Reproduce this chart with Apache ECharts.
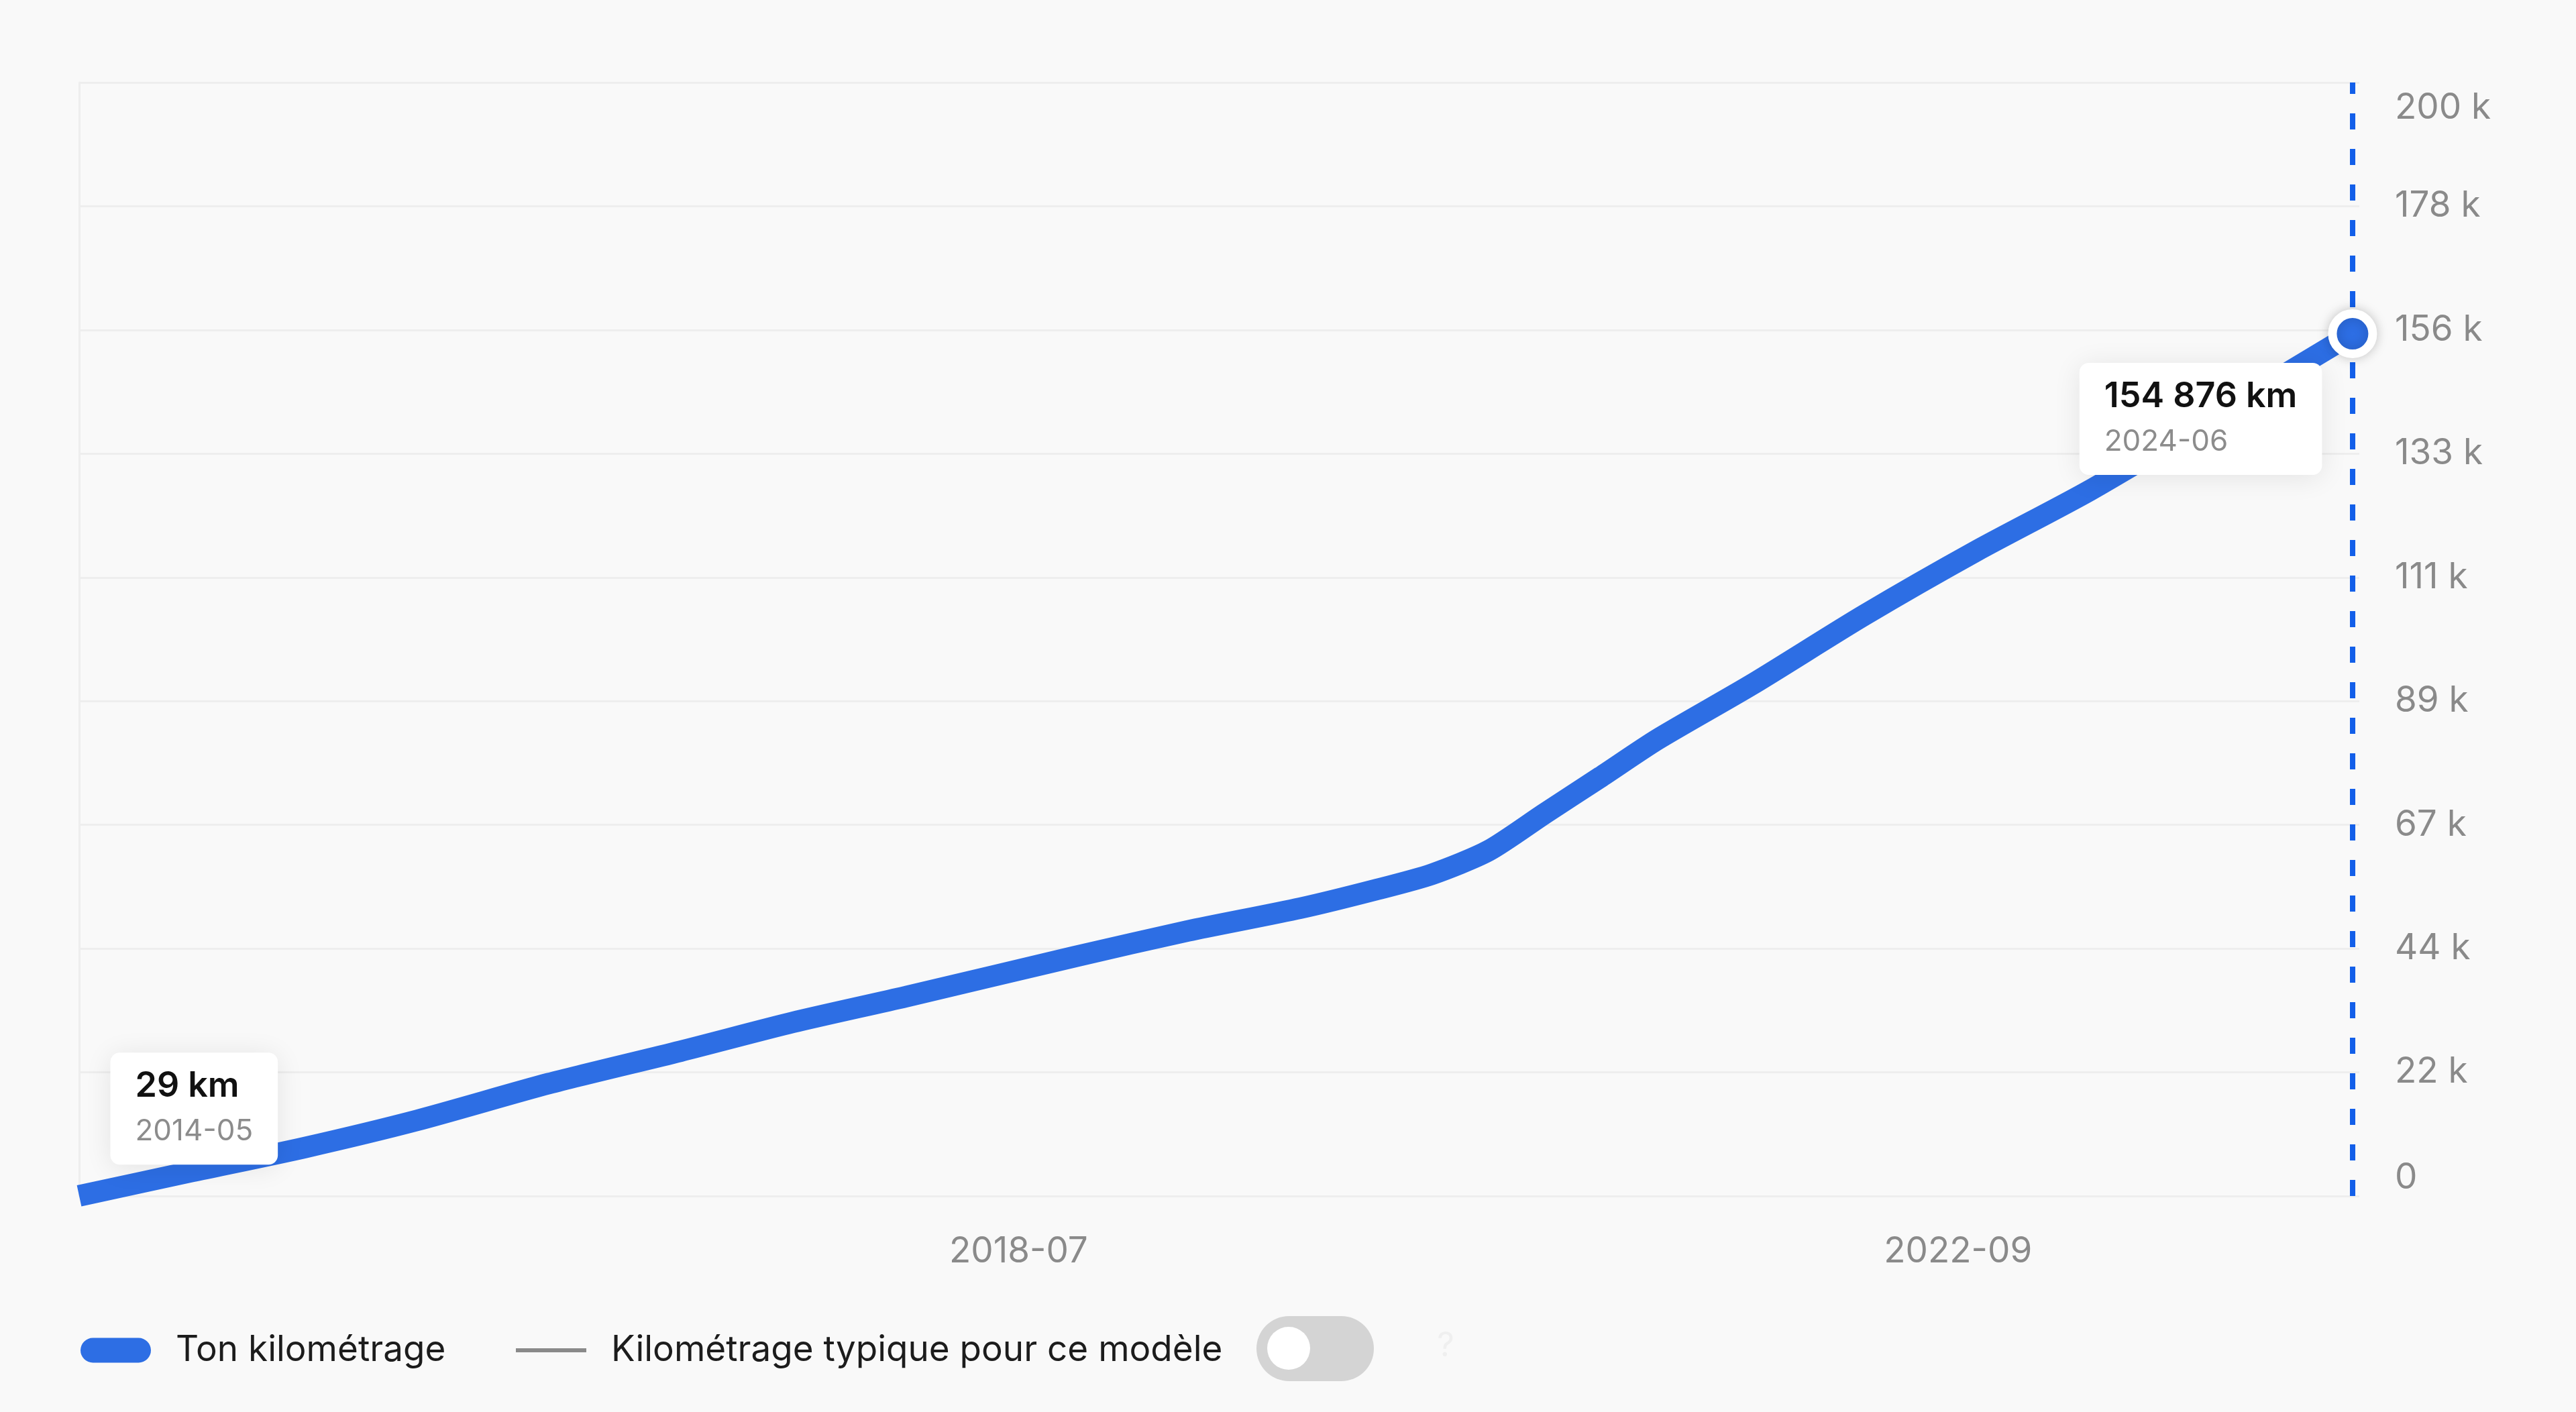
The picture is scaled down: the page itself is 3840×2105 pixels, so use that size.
<!DOCTYPE html>
<html>
<head>
<meta charset="utf-8">
<script src="https://cdn.jsdelivr.net/npm/echarts@6/dist/echarts.min.js"></script>
<style>
  html, body { margin: 0; padding: 0; background: #f9f9f9; }
  #chart { width: 3840px; height: 2105px; }
</style>
</head>
<body>
<div id="chart"></div>
<script>
// ---------- data ----------
const startMonth = '2014-05';
const months = ['2014-05','2014-11','2015-05','2015-11','2016-06','2017-01','2017-07','2018-01','2018-10','2019-04','2019-10','2020-02','2020-05','2020-08','2020-11','2021-02','2021-05','2021-10','2022-04','2022-10','2023-04','2023-11','2024-03','2024-06'];
const mileage = [29, 4400, 8700, 13600, 20200, 26000, 31200, 35800, 43000, 47600, 51700, 55000, 57800, 62000, 68700, 75300, 82000, 91800, 104300, 115900, 126700, 140700, 148800, 154876];
const typicalMileage = [];
const xTickLabels = ['2018-07', '2022-09'];
const yTickLabels = ['0','22 k','44 k','67 k','89 k','111 k','133 k','156 k','178 k','200 k'];
const seriesNames = ['Ton kilométrage', 'Kilométrage typique pour ce modèle'];

// ---------- helpers ----------
function monthIndex(m) {
  const [y0, m0] = startMonth.split('-').map(Number);
  const [y, mm] = m.split('-').map(Number);
  return (y - y0) * 12 + (mm - m0);
}
function monthFromIndex(i) {
  const [y0, m0] = startMonth.split('-').map(Number);
  const t = y0 * 12 + (m0 - 1) + Math.round(i);
  const y = Math.floor(t / 12), m = t % 12 + 1;
  return y + '-' + String(m).padStart(2, '0');
}
function fmtKm(v) { return String(v).replace(/\B(?=(\d{3})+(?!\d))/g, ' ') + ' km'; }

const points = months.map((m, i) => [monthIndex(m), mileage[i]]);
const lastIdx = points.length - 1;
const lastX = points[lastIdx][0];

const FONT = 'Inter, "Noto Sans", sans-serif';
const BLUE = '#2d6ee4';

const labelBox = {
  show: true,
  backgroundColor: '#ffffff',
  borderRadius: 14,
  padding: [17, 37, 16, 37],
  shadowBlur: 40,
  shadowColor: 'rgba(0,0,0,0.09)',
  shadowOffsetY: 4,
  formatter: p => '{a|' + fmtKm(p.value) + '}\n{b|' + p.name + '}',
  rich: {
    a: { fontFamily: FONT, fontSize: 52, fontWeight: 600, color: '#111111', lineHeight: 67, align: 'left' },
    b: { fontFamily: FONT, fontSize: 44, color: '#8c8c8c', lineHeight: 67, align: 'left' }
  }
};

const chart = echarts.init(document.getElementById('chart'), null, { renderer: 'canvas' });
chart.setOption({
  animation: false,
  backgroundColor: '#f9f9f9',
  grid: { left: 118, right: 323, top: 123, bottom: 322, containLabel: false },
  xAxis: {
    type: 'value',
    min: 0,
    max: lastX + 0.36,
    interval: 50,
    axisLine: { show: false },
    axisTick: { show: false },
    splitLine: { show: false },
    axisLabel: {
      showMinLabel: false,
      showMaxLabel: false,
      margin: 57,
      fontFamily: FONT,
      fontSize: 53,
      color: '#8a8a8a',
      formatter: v => { const m = monthFromIndex(v); return xTickLabels.includes(m) ? m : ''; }
    }
  },
  yAxis: {
    type: 'value',
    position: 'right',
    min: 0,
    max: 199998,
    interval: 22222,
    axisLine: { show: true, lineStyle: { color: '#eeeeee', width: 3 } },
    axisTick: { show: false },
    splitLine: { show: true, lineStyle: { color: '#eeeeee', width: 3 } },
    axisLabel: {
      margin: 53,
      fontFamily: FONT,
      fontSize: 53,
      color: '#8a8a8a',
      padding: [12, 0, 0, 0],
      verticalAlignMinLabel: 'bottom',
      verticalAlignMaxLabel: 'top',
      formatter: (v, i) => yTickLabels[i]
    }
  },
  legend: [
    {
      left: 120, top: 1983, padding: 0,
      selectedMode: false,
      itemWidth: 105, itemHeight: 37,
      icon: 'path://M18.5,0H86.5A18.5,18.5,0,0,1,86.5,37H18.5A18.5,18.5,0,0,1,18.5,0Z',
      data: [seriesNames[0]],
      textStyle: { fontFamily: FONT, fontSize: 53, color: '#1c1c1c', lineHeight: 60, padding: [0, 0, 0, 32] }
    },
    {
      left: 769, top: 1983, padding: 0,
      selectedMode: false,
      itemWidth: 105, itemHeight: 6,
      icon: 'rect',
      data: [seriesNames[1]],
      textStyle: { fontFamily: FONT, fontSize: 53, color: '#1c1c1c', lineHeight: 60, padding: [0, 0, 0, 32] }
    }
  ],
  series: [
    {
      name: seriesNames[0],
      type: 'line',
      color: BLUE,
      smooth: 0.25,
      symbol: 'none',
      lineStyle: { width: 32, color: BLUE },
      z: 3,
      data: points.map((p, i) => i === lastIdx ? {
        value: p,
        symbol: 'circle',
        symbolSize: 60,
        itemStyle: { color: BLUE, borderColor: '#ffffff', borderWidth: 13, shadowBlur: 18, shadowColor: 'rgba(0,0,0,0.18)' }
      } : p),
      markLine: {
        silent: true,
        symbol: ['none', 'none'],
        label: { show: false },
        lineStyle: { color: '#135fe9', width: 8, type: [24, 29], opacity: 1 },
        data: [{ xAxis: lastX }],
        z: 2
      },
      markPoint: {
        silent: true,
        symbol: 'circle',
        symbolSize: 1,
        itemStyle: { color: 'rgba(0,0,0,0)' },
        z: 10,
        data: [
          { name: months[0], value: mileage[0], coord: points[0],
            label: Object.assign({}, labelBox, { position: 'right', distance: 46, offset: [0, -130] }) },
          { name: months[lastIdx], value: mileage[lastIdx], coord: points[lastIdx],
            label: Object.assign({}, labelBox, { position: 'left', distance: 45, offset: [0, 127] }) }
        ]
      }
    },
    {
      name: seriesNames[1],
      type: 'line',
      color: '#8a8a8a',
      symbol: 'none',
      lineStyle: { width: 6, color: '#8a8a8a' },
      data: typicalMileage
    }
  ],
  graphic: [
    { type: 'rect', shape: { x: 1873, y: 1962, width: 175, height: 97, r: 48.5 }, style: { fill: '#d4d4d4' }, silent: true },
    { type: 'circle', shape: { cx: 1921, cy: 2010, r: 32 }, style: { fill: '#ffffff' }, silent: true },
    { type: 'text', x: 2155, y: 2007, style: { text: '?', fill: '#efefef', fontFamily: FONT, fontSize: 50, align: 'center', verticalAlign: 'middle' }, silent: true }
  ]
});
</script>
</body>
</html>
